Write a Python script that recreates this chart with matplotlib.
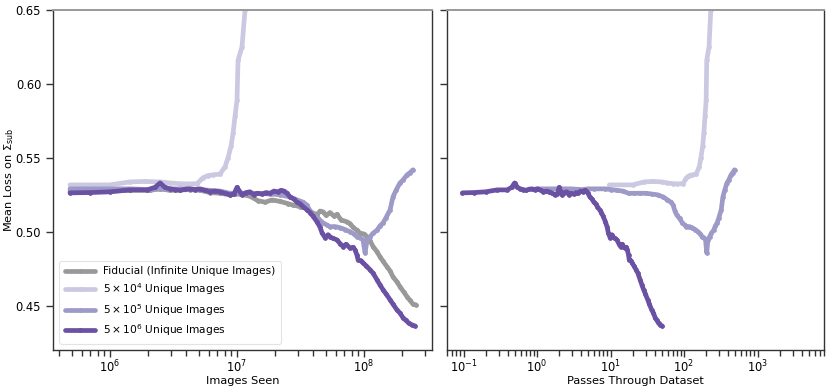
import numpy as np
import matplotlib
matplotlib.use("Agg")
import matplotlib.pyplot as plt

# ---- data: log10(images seen) and mean loss ----
labels = ["Fiducial (Infinite Unique Images)",
          r"$5\times10^4$ Unique Images",
          r"$5\times10^5$ Unique Images",
          r"$5\times10^6$ Unique Images"]
unique_images = [None, 5e4, 5e5, 5e6]

fid_logx = [5.685, 6.000, 6.157, 6.315, 6.394, 6.472, 6.630, 6.709, 6.787, 6.866,
            6.945, 7.024, 7.102, 7.165, 7.220, 7.276, 7.339, 7.402, 7.441, 7.496,
            7.551, 7.591, 7.630, 7.654, 7.677, 7.701, 7.732, 7.764, 7.787, 7.819,
            7.866, 7.890, 7.913, 7.945, 7.969, 8.000, 8.024, 8.047, 8.071, 8.102,
            8.126, 8.150, 8.181, 8.205, 8.228, 8.260, 8.283, 8.315, 8.339, 8.362,
            8.386, 8.409]
fid_loss = [0.5275, 0.5275, 0.5280, 0.5280, 0.5290, 0.5280, 0.5285, 0.5280, 0.5265, 0.5260,
            0.5250, 0.5255, 0.5240, 0.5210, 0.5200, 0.5215, 0.5205, 0.5190, 0.5180, 0.5170,
            0.5160, 0.5130, 0.5115, 0.5140, 0.5135, 0.5110, 0.5130, 0.5105, 0.5118, 0.5080,
            0.5067, 0.5055, 0.5030, 0.5010, 0.4990, 0.4985, 0.4966, 0.4940, 0.4900, 0.4865,
            0.4830, 0.4800, 0.4763, 0.4735, 0.4695, 0.4660, 0.4628, 0.4590, 0.4560, 0.4535,
            0.4510, 0.4505]

u4_logx = [5.685, 6.000, 6.157, 6.276, 6.394, 6.472, 6.551, 6.606, 6.685, 6.732,
           6.772, 6.811, 6.866, 6.906, 6.929, 6.953, 6.969, 6.984, 7.000, 7.008,
           7.039, 7.063, 7.079]
u4_loss = [0.5317, 0.5317, 0.5337, 0.5340, 0.5337, 0.5330, 0.5325, 0.5324, 0.5325, 0.5365,
           0.5380, 0.5385, 0.5390, 0.5440, 0.5500, 0.5580, 0.5668, 0.5780, 0.5890, 0.6160,
           0.6250, 0.6500, 0.6800]

u5_logx = [5.685, 6.000, 6.157, 6.315, 6.394, 6.472, 6.630, 6.709, 6.787, 6.866,
           6.945, 7.024, 7.102, 7.181, 7.260, 7.339, 7.417, 7.472, 7.520, 7.551,
           7.575, 7.598, 7.638, 7.677, 7.709, 7.732, 7.772, 7.811, 7.850, 7.890,
           7.921, 7.945, 7.969, 7.992, 8.008, 8.024, 8.047, 8.071, 8.102, 8.126,
           8.150, 8.173, 8.205, 8.228, 8.252, 8.283, 8.307, 8.339, 8.362, 8.386]
u5_loss = [0.5290, 0.5290, 0.5290, 0.5285, 0.5290, 0.5290, 0.5290, 0.5285, 0.5280, 0.5275,
           0.5260, 0.5260, 0.5260, 0.5260, 0.5255, 0.5250, 0.5235, 0.5216, 0.5200, 0.5180,
           0.5140, 0.5115, 0.5090, 0.5060, 0.5045, 0.5034, 0.5035, 0.5027, 0.5015, 0.5000,
           0.4985, 0.4966, 0.4960, 0.4946, 0.4857, 0.4945, 0.4966, 0.4990, 0.5010, 0.5040,
           0.5060, 0.5095, 0.5148, 0.5236, 0.5280, 0.5330, 0.5350, 0.5385, 0.5400, 0.5419]

u6_logx = [5.685, 5.843, 6.000, 6.157, 6.291, 6.354, 6.394, 6.433, 6.472, 6.512,
           6.551, 6.591, 6.630, 6.669, 6.709, 6.748, 6.787, 6.827, 6.866, 6.906,
           6.945, 6.976, 7.000, 7.039, 7.071, 7.102, 7.134, 7.157, 7.197, 7.228,
           7.260, 7.291, 7.323, 7.346, 7.370, 7.394, 7.417, 7.449, 7.472, 7.496,
           7.520, 7.551, 7.575, 7.598, 7.630, 7.654, 7.669, 7.693, 7.717, 7.732,
           7.756, 7.787, 7.811, 7.835, 7.858, 7.890, 7.913, 7.929, 7.945, 7.953,
           7.976, 7.992, 8.016, 8.047, 8.071, 8.102, 8.126, 8.150, 8.173, 8.205,
           8.228, 8.260, 8.283, 8.307, 8.331, 8.354, 8.378, 8.402]
u6_loss = [0.5263, 0.5265, 0.5270, 0.5283, 0.5283, 0.5300, 0.5330, 0.5300, 0.5290, 0.5285,
           0.5280, 0.5288, 0.5290, 0.5285, 0.5290, 0.5280, 0.5270, 0.5275, 0.5270, 0.5260,
           0.5250, 0.5255, 0.5300, 0.5250, 0.5265, 0.5270, 0.5250, 0.5260, 0.5255, 0.5265,
           0.5260, 0.5275, 0.5270, 0.5280, 0.5275, 0.5260, 0.5236, 0.5220, 0.5200, 0.5190,
           0.5170, 0.5148, 0.5130, 0.5105, 0.5067, 0.5030, 0.4993, 0.4960, 0.4980, 0.4966,
           0.4955, 0.4945, 0.4920, 0.4900, 0.4915, 0.4890, 0.4895, 0.4878, 0.4840, 0.4810,
           0.4805, 0.4790, 0.4770, 0.4743, 0.4720, 0.4675, 0.4640, 0.4607, 0.4580, 0.4540,
           0.4510, 0.4470, 0.4450, 0.4418, 0.4400, 0.4380, 0.4370, 0.4362]

series_logx = [fid_logx, u4_logx, u5_logx, u6_logx]
series_loss = [fid_loss, u4_loss, u5_loss, u6_loss]
colors = ["#999999", "#cbc9e2", "#9e9ac8", "#6a51a3"]

plt.rcParams["font.family"] = ["DejaVu Sans"]
plt.rcParams["mathtext.fontset"] = "dejavusans"

fig = plt.figure(figsize=(8.3, 3.9), dpi=100)
ax1 = fig.add_axes([0.0639, 0.1026, 0.4566, 0.8718])
ax2 = fig.add_axes([0.5386, 0.1026, 0.4542, 0.8718], sharey=ax1)

line_kw = dict(lw=3.4, marker="o", markersize=2.4, solid_capstyle="round")
for lx, ly, c, lab, n in zip(series_logx, series_loss, colors, labels, unique_images):
    x = 10 ** np.array(lx)
    ax1.plot(x, ly, color=c, label=lab, **line_kw)
    if n is not None:
        ax2.plot(x / n, ly, color=c, **line_kw)

for ax in (ax1, ax2):
    ax.set_xscale("log")
    for s in ("left", "right", "bottom"):
        ax.spines[s].set_color("#333333")
        ax.spines[s].set_linewidth(1.0)
    ax.spines["top"].set_color("#999999")
    ax.spines["top"].set_linewidth(1.4)
    ax.tick_params(which="major", length=5, width=1.0, color="#333333", labelsize=8.3)
    ax.tick_params(which="minor", length=4, width=1.0, color="#333333")
    ax.tick_params(axis="x", which="major", pad=1)

ax1.set_ylim(0.42, 0.65)
ax1.set_yticks([0.45, 0.50, 0.55, 0.60, 0.65])
ax1.set_xlim(3.56e5, 3.43e8)
ax2.set_xlim(0.0597, 8030)
ax2.tick_params(axis="y", labelleft=False)

ax1.set_xlabel("Images Seen", fontsize=8.2, labelpad=0.5)
ax2.set_xlabel("Passes Through Dataset", fontsize=8.2, labelpad=0.5)
ax1.set_ylabel(r"Mean Loss on $\Sigma_{\rm sub}$", fontsize=8.2)
ax1.yaxis.set_label_coords(-0.098, 0.5)

leg = ax1.legend(loc="lower left", fontsize=7.7, handlelength=2.8, frameon=True,
                 borderaxespad=0.6, labelspacing=0.45, borderpad=0.5)
leg.get_frame().set_edgecolor("#dddddd")
leg.get_frame().set_linewidth(0.8)

fig.savefig("out.png", dpi=100)
